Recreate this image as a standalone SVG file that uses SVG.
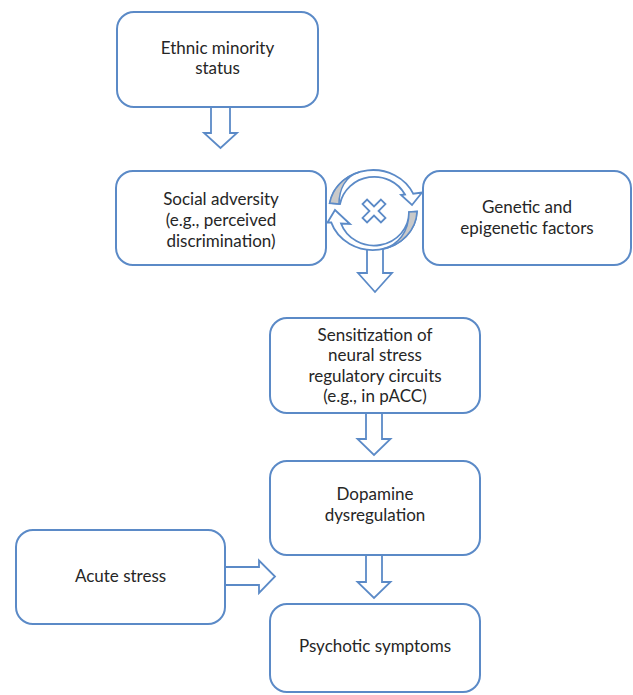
<svg xmlns="http://www.w3.org/2000/svg" width="633" height="695" viewBox="0 0 633 695">
<style>
.box{fill:#fff;stroke:#5B8AC7;stroke-width:2}
.arr{fill:#fff;stroke:#5B8AC7;stroke-width:1.8;stroke-linejoin:miter}
.gray{fill:#C9C9C9;stroke:#5B8AC7;stroke-width:1.5}
text{font-family:Lato,'Liberation Sans',sans-serif;font-size:17px;fill:#262626;text-anchor:middle}
</style>
<rect width="633" height="695" fill="#fff"/>
<g id="connectors">
  <polygon class="arr" points="211,107 230,107 230,133 237,133 220.5,148 204,133 211,133"/>
  <polygon class="arr" points="367,248 383,248 383,273 392,273 375,292 358,273 367,273"/>
  <polygon class="arr" points="366,413 382,413 382,439 390.5,439 374,455 357.5,439 366,439"/>
  <polygon class="arr" points="366,555 382,555 382,582 390.5,582 374,598 357.5,582 366,582"/>
  <polygon class="arr" points="225,567 259,567 259,560.5 275,576.5 259,593 259,585 225,585"/>
  <g id="cycle">
    <path class="arr" d="M329.7,203.1 A44,40 0 0 1 413.2,193.7 L422,192.5 L412,205 L401,195 L405,194.5 A35,34 0 0 0 340,204 Z"/>
    <path class="gray" d="M329.7,203.1 A44,40 0 0 1 359.4,172 C345,176 339,190 339,204 Z"/>
    <path class="arr" d="M417,211.5 A44,40 0 0 1 331.2,222.4 L327.5,222.5 L335,210 L350,224 L341,223.5 A35,33 0 0 0 409,212 Z"/>
    <path class="gray" d="M409,212 L417,211.5 A44,40 0 0 1 382.9,249 C398,245 409,232 409,212 Z"/>
    <polygon class="arr" transform="translate(374,211) rotate(45)" points="-3.2,-13 3.2,-13 3.2,-3.2 13,-3.2 13,3.2 3.2,3.2 3.2,13 -3.2,13 -3.2,3.2 -13,3.2 -13,-3.2 -3.2,-3.2"/>
  </g>
</g>
<g id="ethnic">
  <rect class="box" x="117" y="12" width="201" height="95" rx="17"/>
  <text x="217.5" y="54">Ethnic minority</text>
  <text x="217.5" y="74">status</text>
</g>
<g id="social">
  <rect class="box" x="116" y="171" width="210" height="94" rx="17"/>
  <text x="221" y="205">Social adversity</text>
  <text x="221" y="226">(e.g., perceived</text>
  <text x="221" y="247">discrimination)</text>
</g>
<g id="genetic">
  <rect class="box" x="423" y="171" width="208" height="94" rx="17"/>
  <text x="527" y="213">Genetic and</text>
  <text x="527" y="233.5">epigenetic factors</text>
</g>
<g id="sensitization">
  <rect class="box" x="270" y="318" width="210" height="95" rx="17"/>
  <text x="375" y="340.5">Sensitization of</text>
  <text x="375" y="361">neural stress</text>
  <text x="375" y="381.5">regulatory circuits</text>
  <text x="375" y="402">(e.g., in pACC)</text>
</g>
<g id="dopamine">
  <rect class="box" x="270" y="461" width="210" height="94" rx="17"/>
  <text x="375" y="500">Dopamine</text>
  <text x="375" y="520.5">dysregulation</text>
</g>
<g id="acute">
  <rect class="box" x="16" y="530" width="209" height="94" rx="17"/>
  <text x="120.5" y="582">Acute stress</text>
</g>
<g id="psychotic">
  <rect class="box" x="270" y="604" width="210" height="88" rx="17"/>
  <text x="375" y="652">Psychotic symptoms</text>
</g>
</svg>
